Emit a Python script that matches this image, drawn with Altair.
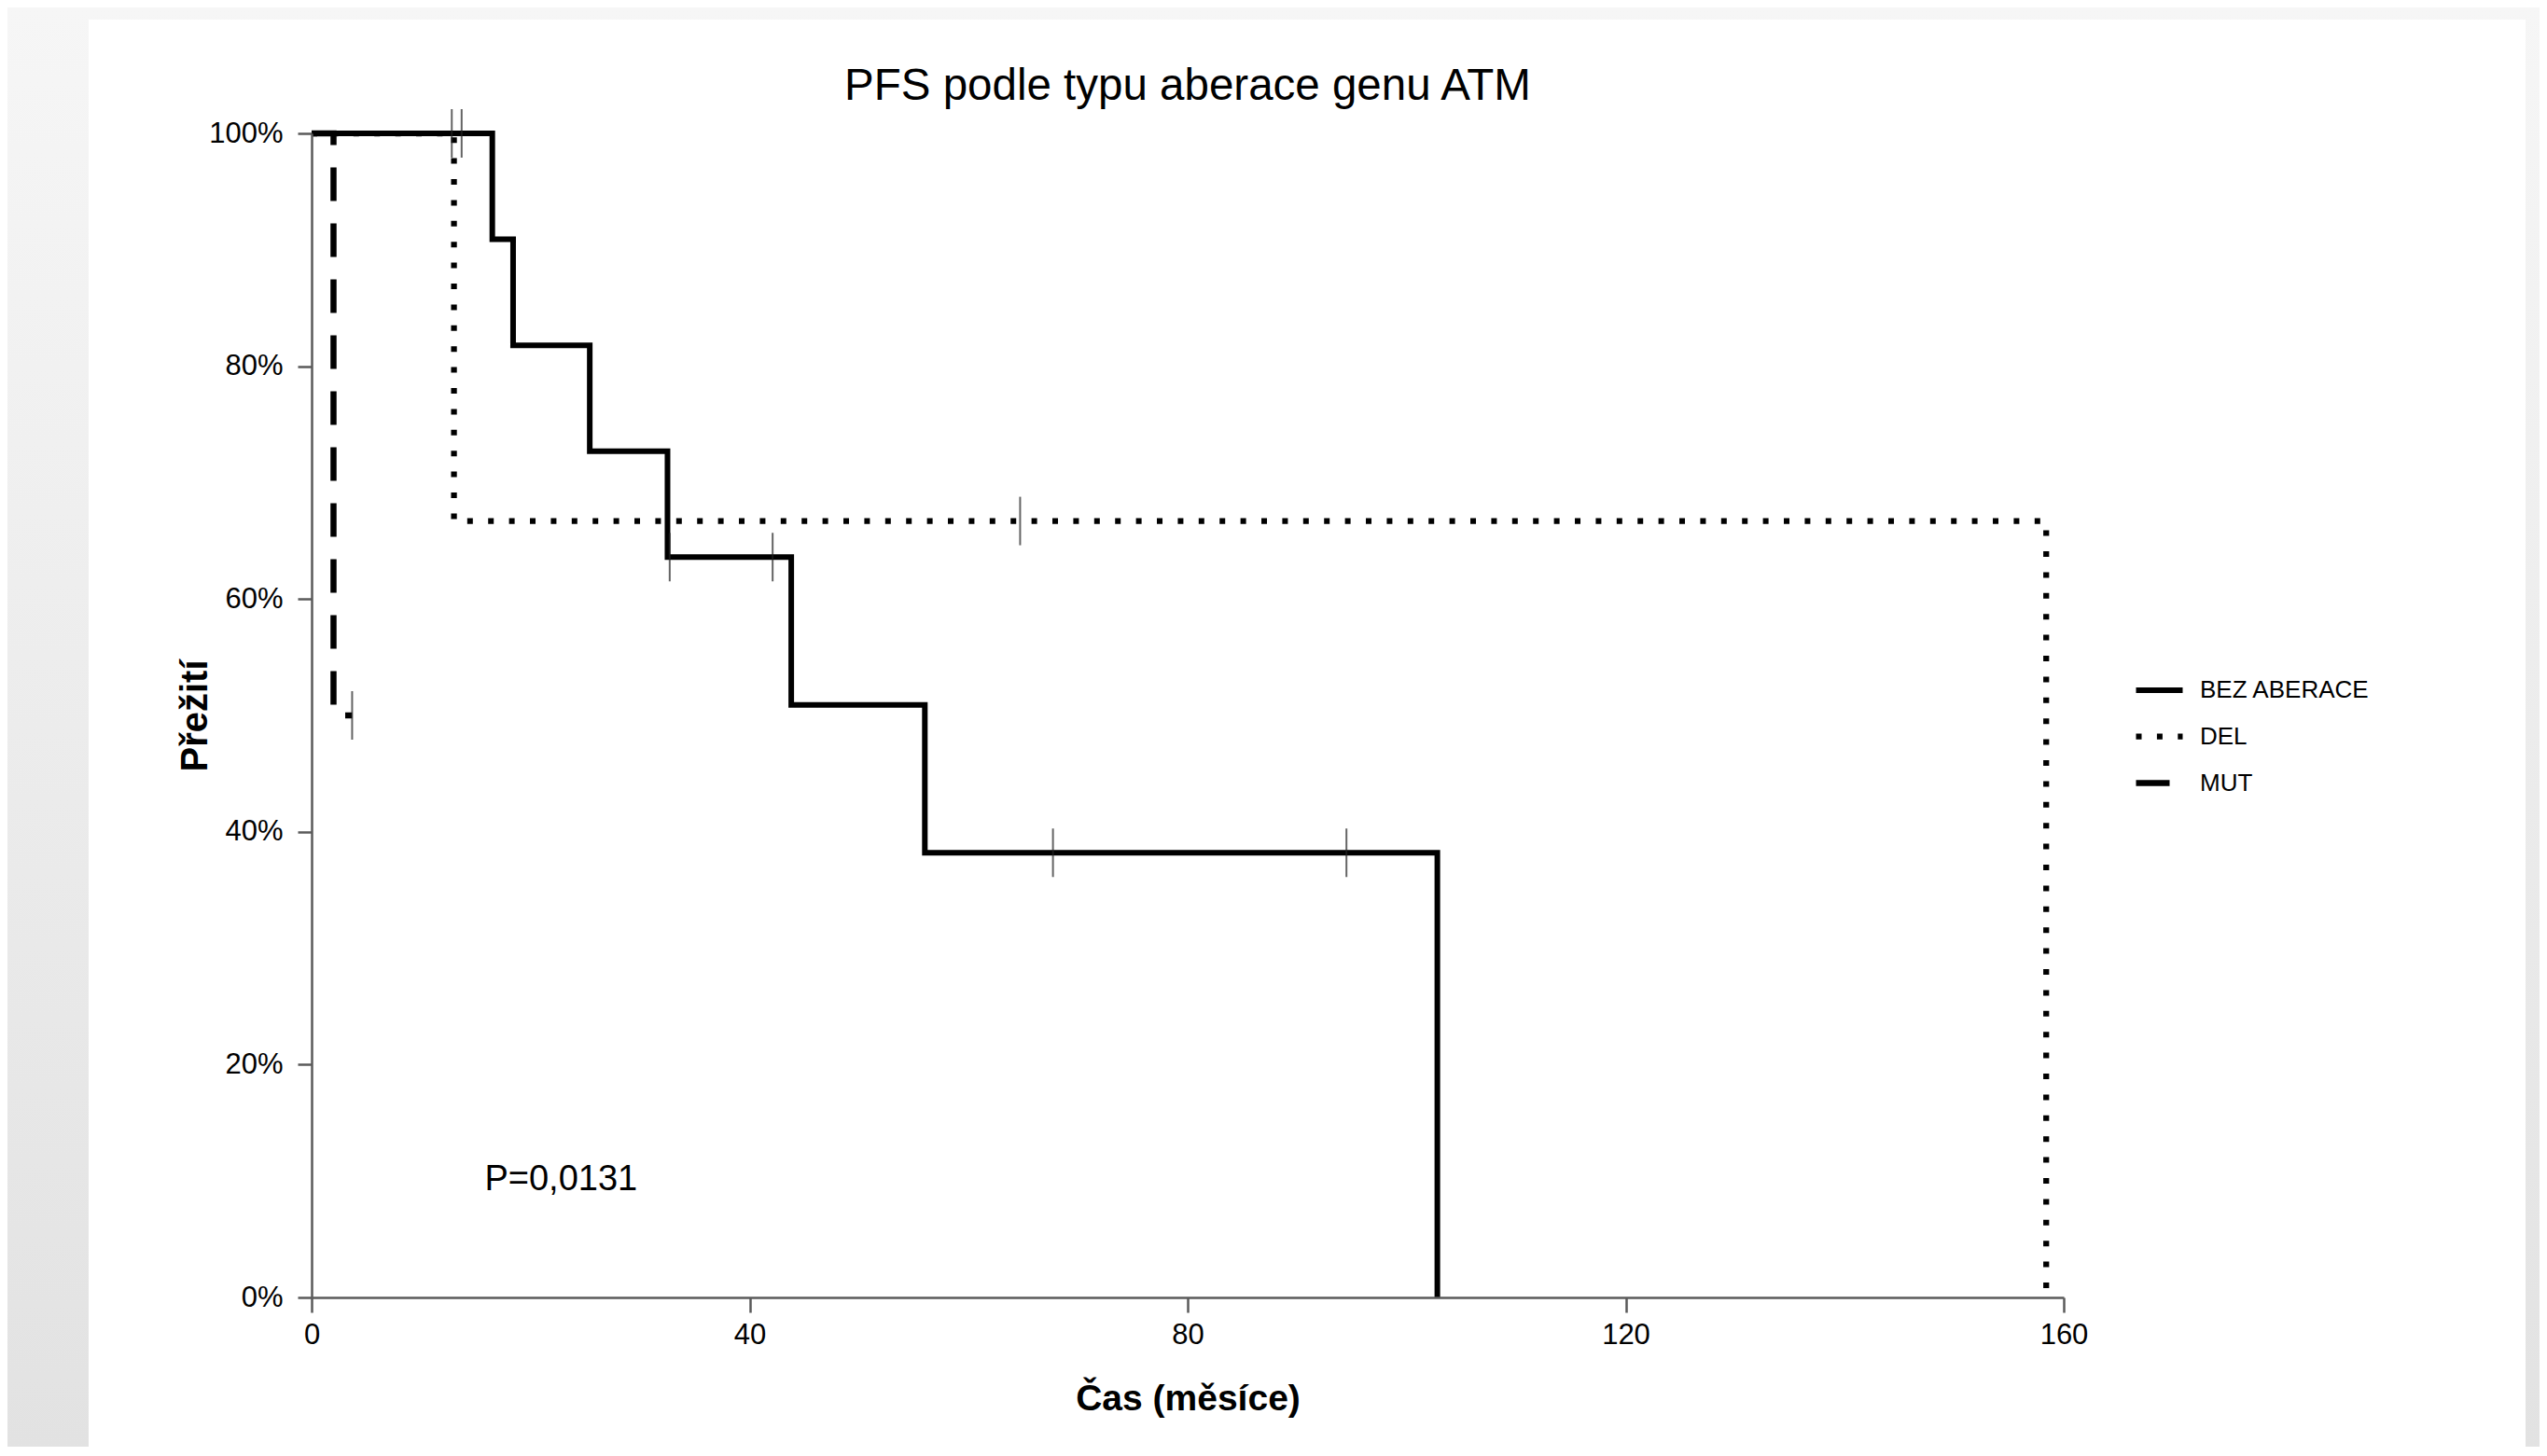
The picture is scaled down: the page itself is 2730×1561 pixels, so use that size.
import altair as alt
import pandas as pd

FONT = "Liberation Sans"

groups = ["BEZ ABERACE", "DEL", "MUT"]

# Kaplan-Meier step curves (time in months, survival in %)
bez_time = [0, 16.5, 18.4, 25.4, 32.5, 43.8, 56.0, 102.8]
bez_surv = [100, 90.9, 81.8, 72.7, 63.6, 50.9, 38.2, 0]
del_time = [0, 13.0, 158.4]
del_surv = [100, 66.7, 0]
mut_time = [0, 2.0, 3.7]
mut_surv = [100, 50, 50]

# censored observations
bez_cens_time = [32.7, 42.1, 67.7, 94.5]
bez_cens_surv = [63.6, 63.6, 38.2, 38.2]
del_cens_time = [12.8, 13.7, 64.7]
del_cens_surv = [100, 100, 66.7]
mut_cens_time = [3.7]
mut_cens_surv = [50]

x_ticks = [0, 40, 80, 120, 160]
y_ticks = [0, 20, 40, 60, 80, 100]
title_text = "PFS podle typu aberace genu ATM"
p_value_text = "P=0,0131"

curves = pd.concat([
    pd.DataFrame({"time": mut_time, "surv": mut_surv, "group": "MUT"}),
    pd.DataFrame({"time": del_time, "surv": del_surv, "group": "DEL"}),
    pd.DataFrame({"time": bez_time, "surv": bez_surv, "group": "BEZ ABERACE"}),
], ignore_index=True)

cens = pd.concat([
    pd.DataFrame({"time": bez_cens_time, "surv": bez_cens_surv, "group": "BEZ ABERACE"}),
    pd.DataFrame({"time": del_cens_time, "surv": del_cens_surv, "group": "DEL"}),
    pd.DataFrame({"time": mut_cens_time, "surv": mut_cens_surv, "group": "MUT"}),
], ignore_index=True)

axis_style = dict(
    grid=False, domainColor="#5a5a5a", domainWidth=2.5, tickColor="#5a5a5a",
    tickWidth=2.5, labelFont=FONT, labelFontSize=31, labelColor="black",
    titleFont=FONT, titleFontWeight="bold", titleColor="black",
    labelFlush=False, labelOverlap=False, zindex=1,
)

x_enc = alt.X(
    "time:Q",
    scale=alt.Scale(domain=[0, 160], nice=False, zero=False),
    axis=alt.Axis(values=x_ticks, tickSize=16, labelPadding=9, titlePadding=34,
                  titleFontSize=39, **axis_style),
    title="Čas (měsíce)",
)
y_enc = alt.Y(
    "surv:Q",
    scale=alt.Scale(domain=[0, 100], nice=False),
    axis=alt.Axis(values=y_ticks, tickSize=15, labelPadding=16, labelExpr="datum.value + '%'",
                  titlePadding=2, titleBaseline="alphabetic", titleFontSize=40, **axis_style),
    title="Přežití",
)

bg = alt.Chart(pd.DataFrame({"k": [0]})).mark_rect(
    fill=alt.LinearGradient(
        gradient="linear",
        stops=[alt.GradientStop(color="#f6f6f6", offset=0), alt.GradientStop(color="#e2e2e2", offset=1)],
        x1=0, x2=0, y1=0, y2=1,
    )
).encode(x=alt.value(-326), x2=alt.value(2388), y=alt.value(-135), y2=alt.value(1410))

panel = alt.Chart(pd.DataFrame({"k": [0]})).mark_rect(fill="white").encode(
    x=alt.value(-239), x2=alt.value(2373), y=alt.value(-122), y2=alt.value(1410)
)

lines = alt.Chart(curves).mark_line(
    interpolate="step-after", color="black", strokeCap="butt", strokeJoin="miter"
).encode(
    x=x_enc,
    y=y_enc,
    strokeDash=alt.StrokeDash(
        "group:N",
        scale=alt.Scale(domain=groups, range=[[1, 0], [6, 16.4], [36, 24]]),
        legend=alt.Legend(
            title=None, orient="none", legendX=1952, legendY=569,
            symbolType="stroke", symbolSize=2500, symbolStrokeWidth=5.5,
            symbolStrokeColor="black", labelFont=FONT, labelFontSize=26,
            labelColor="black", labelLimit=400, labelOffset=15, rowPadding=8, padding=0,
        ),
    ),
    strokeWidth=alt.StrokeWidth(
        "group:N", scale=alt.Scale(domain=groups, range=[6, 6.5, 7]), legend=None
    ),
)

ticks = alt.Chart(cens).mark_tick(
    orient="vertical", size=52, thickness=2, color="#222222"
).encode(x="time:Q", y="surv:Q")

ptext = alt.Chart(pd.DataFrame({"label": [p_value_text]})).mark_text(
    align="left", baseline="alphabetic", font=FONT, fontSize=38, color="black"
).encode(x=alt.datum(15.8), y=alt.datum(9.2), text="label:N")

ttext = alt.Chart(pd.DataFrame({"label": [title_text]})).mark_text(
    align="center", baseline="alphabetic", font=FONT, fontSize=47.5, color="black"
).encode(x=alt.datum(80), y=alt.value(-36), text="label:N")

chart = alt.layer(bg, panel, lines, ticks, ptext, ttext).properties(
    width=1878,
    height=1248,
    autosize="none",
    padding={"left": 326, "top": 135, "right": 510, "bottom": 160},
).configure_view(strokeWidth=0).configure(background="#f6f6f6")

chart.save("out.html", embed_options={"renderer": "svg", "actions": False})
